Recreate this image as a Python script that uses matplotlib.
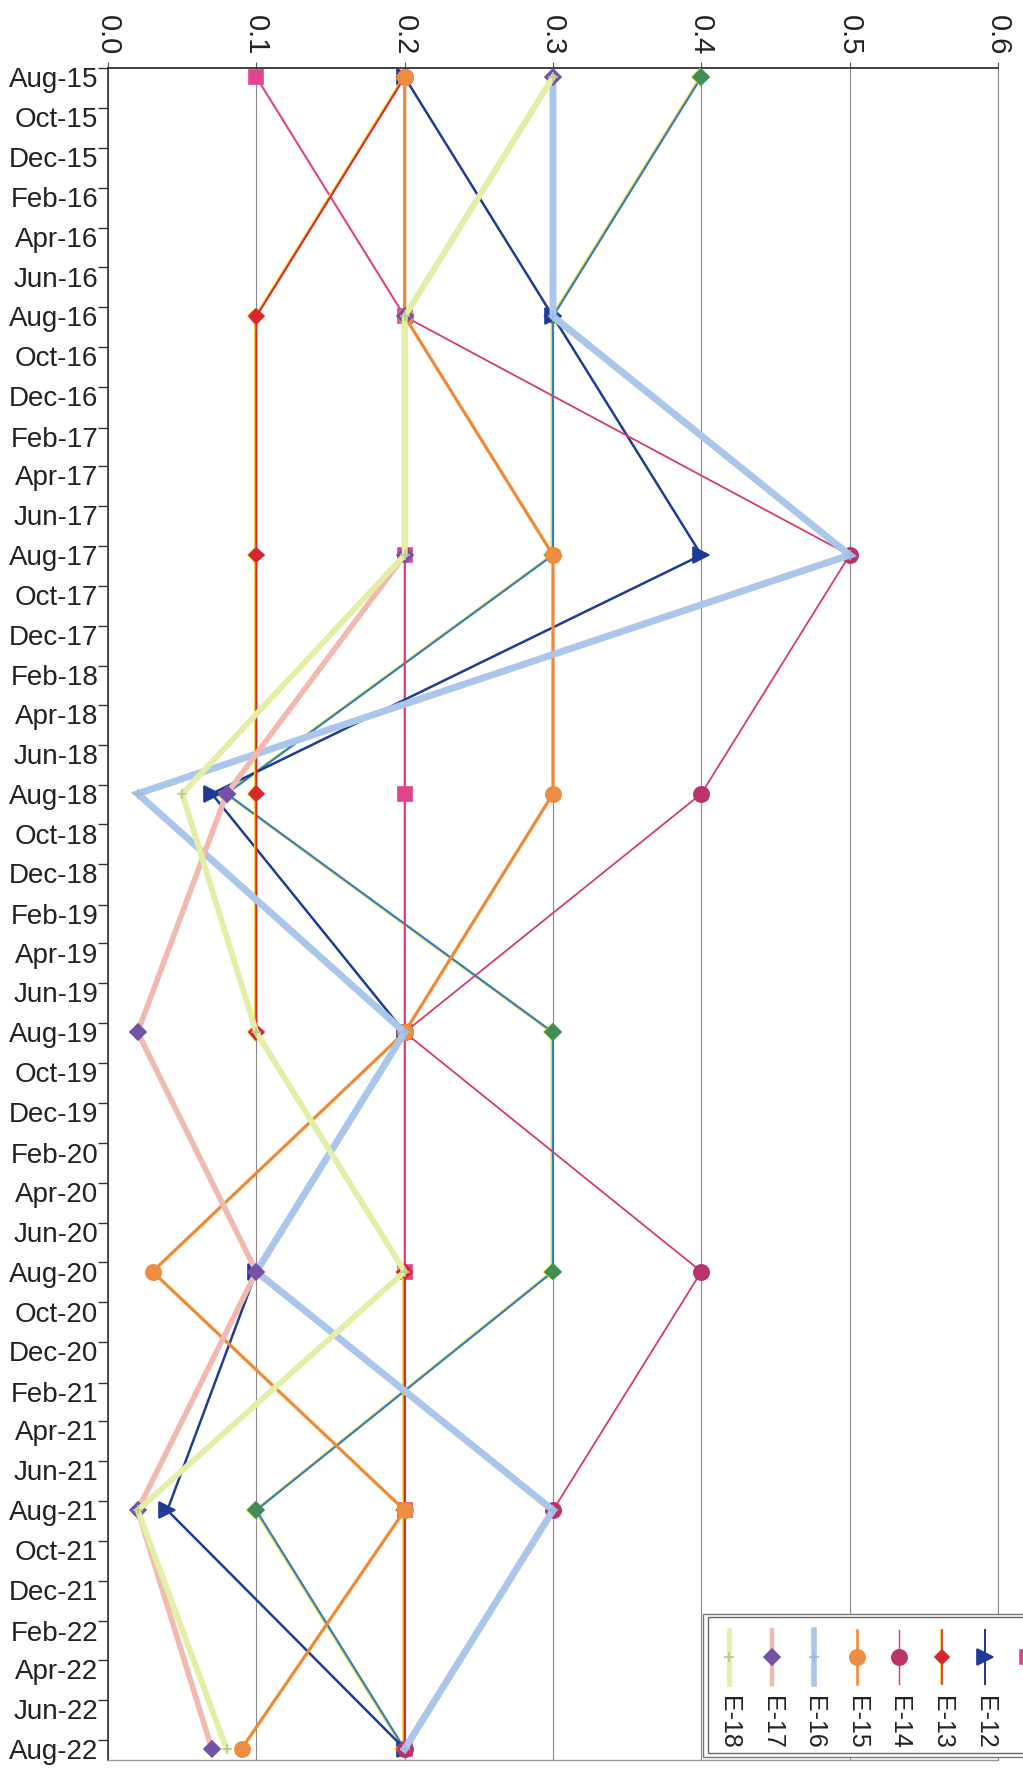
import matplotlib
matplotlib.use('Agg')
import matplotlib.pyplot as plt
import matplotlib.dates as mdates
import matplotlib.patheffects as pe
from matplotlib.patches import Rectangle
from matplotlib.lines import Line2D
import numpy as np

plt.rcParams['font.family'] = ['Liberation Sans', 'DejaVu Sans']

# ---------------- data ----------------
dates = np.array(['2015-08-15', '2016-08-15', '2017-08-15', '2018-08-15',
                  '2019-08-15', '2020-08-15', '2021-08-15', '2022-08-15'],
                 dtype='datetime64[D]')
series_names = ['E-10', 'E-11', 'E-12', 'E-13', 'E-14', 'E-15', 'E-16', 'E-17', 'E-18']
E10 = [0.4, 0.3, 0.3, 0.08, 0.3, 0.3, 0.1, 0.2]
E11 = [0.1, 0.2, 0.2, 0.2, 0.2, 0.2, 0.2, 0.2]
E12 = [0.2, 0.3, 0.4, 0.07, 0.2, 0.1, 0.04, 0.2]
E13 = [0.2, 0.1, 0.1, 0.1, 0.1, 0.2, 0.2, 0.2]
E14 = [0.2, 0.2, 0.5, 0.4, 0.2, 0.4, 0.3, 0.2]
E15 = [0.2, 0.2, 0.3, 0.3, 0.2, 0.03, 0.2, 0.09]
E16 = [0.3, 0.3, 0.5, 0.02, 0.2, 0.1, 0.3, 0.2]
E17 = [0.3, 0.2, 0.2, 0.08, 0.02, 0.1, 0.02, 0.07]
E18 = [0.3, 0.2, 0.2, 0.05, 0.1, 0.2, 0.02, 0.08]
series_values = [E10, E11, E12, E13, E14, E15, E16, E17, E18]
value_ticks = [0.0, 0.1, 0.2, 0.3, 0.4, 0.5, 0.6]
value_labels = ['0.0', '0.1', '0.2', '0.3', '0.4', '0.5', '0.6']

# ---------------- styles ----------------
yellow_shadow = [pe.SimpleLineShadow(offset=(-1.0, 0), shadow_color='#EEDD33', alpha=1.0, rho=1.0), pe.Normal()]
styles = {
    'E-10': dict(color='#2E7EC2', lw=1.5, marker='D', ms=8, mfc='#3E8E55', mec='#3E8E55', pe=yellow_shadow),
    'E-11': dict(color='#E0428A', lw=1.5, marker='s', ms=10, mfc='#E0448C', mec='#E0448C', pe=None),
    'E-12': dict(color='#1E3C96', lw=1.8, marker='>', ms=11, mfc='#1E3C96', mec='#1E3C96', pe=None),
    'E-13': dict(color='#DA2630', lw=1.5, marker='D', ms=7.5, mfc='#D8262E', mec='#D8262E', pe=yellow_shadow),
    'E-14': dict(color='#D83A70', lw=1.3, marker='o', ms=11, mfc='#B8346A', mec='#B8346A', pe=None),
    'E-15': dict(color='#F08A32', lw=2.3, marker='o', ms=11, mfc='#EE8C40', mec='#EE8C40', pe=None),
    'E-16': dict(color='#AAC6EA', lw=5.0, marker='+', ms=7, mfc='#AAC6EA', mec='#9DB8E0', pe=None),
    'E-17': dict(color='#F2B9B0', lw=4.0, marker='D', ms=8, mfc='#7452A6', mec='#7452A6', pe=None),
    'E-18': dict(color='#E3EEA6', lw=4.2, marker='+', ms=7, mfc='#C8D88A', mec='#B8C890', pe=None),
}

W, H = 1023, 1768
fig = plt.figure(figsize=(W / 100, H / 100), dpi=100)
ax = fig.add_axes([108 / W, 1 - 1760 / H, (998 - 108) / W, (1760 - 68) / H])

for i, (name, vals) in enumerate(zip(series_names, series_values)):
    s = styles[name]
    ax.plot(vals, dates, color=s['color'], lw=s['lw'], marker=s['marker'], ms=s['ms'],
            mfc=s['mfc'], mec=s['mec'], mew=1.2, zorder=3 + i,
            path_effects=s['pe'], solid_joinstyle='miter')

# value axis (top)
ax.set_xlim(0, 0.6)
ax.set_xticks(value_ticks)
ax.set_xticklabels(value_labels, rotation=270, fontsize=21, color='#222222')
ax.xaxis.tick_top()
ax.tick_params(axis='x', which='major', direction='out', length=4, width=0.8,
               color='#555555', pad=5)
ax.grid(axis='x', color='#8a8a8a', lw=0.8, zorder=1)

# date axis (left)
ax.set_ylim(np.datetime64('2022-09-01'), np.datetime64('2015-08-01'))
bymonth = [2, 4, 6, 8, 10, 12]
ax.yaxis.set_major_locator(mdates.MonthLocator(bymonth=bymonth, bymonthday=1))
ax.yaxis.set_major_formatter(plt.NullFormatter())
ax.yaxis.set_minor_locator(mdates.MonthLocator(bymonth=bymonth, bymonthday=15))
ax.yaxis.set_minor_formatter(mdates.DateFormatter('%b-%y'))
ax.tick_params(axis='y', which='major', direction='out', length=7, width=1.0, color='#333333')
ax.tick_params(axis='y', which='minor', length=0, pad=7, labelsize=20, labelcolor='#222222')

for side, col, lw in [('top', '#333333', 1.3), ('left', '#333333', 1.2),
                      ('bottom', '#999999', 1.0), ('right', '#8a8a8a', 0.8)]:
    ax.spines[side].set_color(col)
    ax.spines[side].set_linewidth(lw)

# ---------------- legend (rotated, drawn manually) ----------------
lax = fig.add_axes([0, 0, 1, 1], zorder=10)
lax.set_xlim(0, W)
lax.set_ylim(H, 0)
lax.axis('off')
lax.add_patch(Rectangle((703, 1614), 400, 143, facecolor='white', edgecolor='#777777', lw=1.0))
lax.add_patch(Rectangle((708, 1617), 400, 136, facecolor='white', edgecolor='#666666', lw=1.0))
legend_order = ['E-18', 'E-17', 'E-16', 'E-15', 'E-14', 'E-13', 'E-12', 'E-11', 'E-10']
for k, name in enumerate(legend_order):
    s = styles[name]
    x = 729 + 42.6 * k
    lax.add_line(Line2D([x, x], [1630, 1684], color=s['color'], lw=s['lw'] * 0.8,
                        path_effects=s['pe']))
    lax.add_line(Line2D([x], [1657], marker=s['marker'], ms=s['ms'], mfc=s['mfc'],
                        mec=s['mec'], mew=1.2, ls='none'))
    if x + 12 < W:
        lax.text(x, 1696, name, rotation=270, ha='center', va='top', fontsize=18, color='#222222')

fig.savefig('out.png', dpi=100, facecolor='white')
